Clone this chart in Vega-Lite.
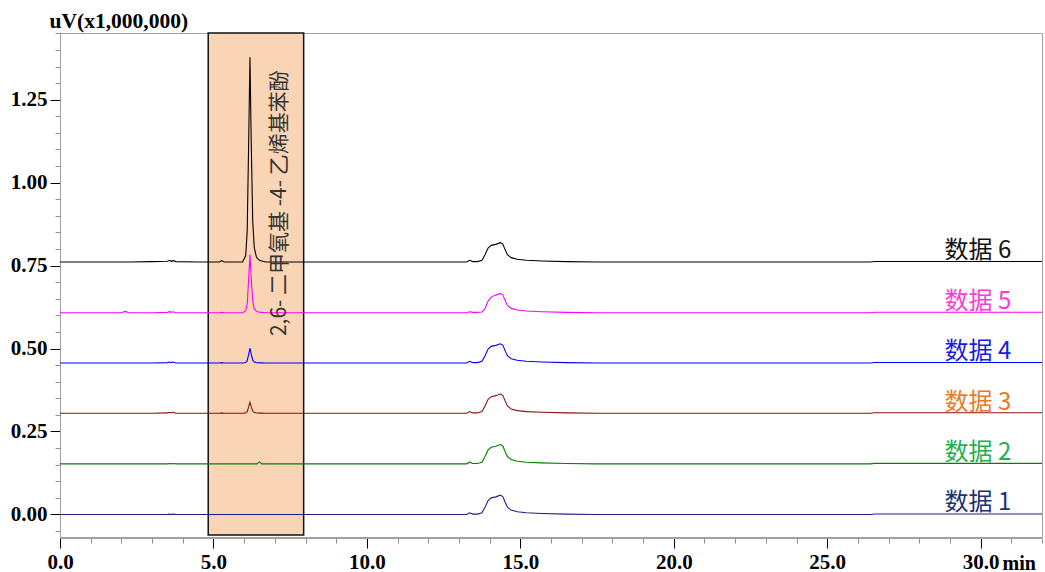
{
  "$schema": "https://vega.github.io/schema/vega-lite/v6.json",
  "autosize": "none",
  "width": 982,
  "height": 504,
  "padding": {"left": 60, "top": 33, "right": 3, "bottom": 35},
  "background": "white",
  "config": {"view": {"stroke": "#a0a0a0", "strokeWidth": 1}},
  "datasets": {
    "traces": [
      {"t": 0, "d1": 0, "d2": 0.1525, "d3": 0.305, "d4": 0.4565, "d5": 0.608, "d6": 0.761},
      {"t": 2.0, "d1": 0, "d2": 0.1525, "d3": 0.305, "d4": 0.4565, "d5": 0.608, "d6": 0.761},
      {"t": 2.12, "d1": 0, "d2": 0.1525, "d3": 0.305, "d4": 0.4565, "d5": 0.612, "d6": 0.761},
      {"t": 2.25, "d1": 0, "d2": 0.1525, "d3": 0.305, "d4": 0.4565, "d5": 0.608, "d6": 0.761},
      {"t": 3.0, "d1": 0, "d2": 0.1525, "d3": 0.305, "d4": 0.4565, "d5": 0.608, "d6": 0.762},
      {"t": 3.5, "d1": 0, "d2": 0.1525, "d3": 0.306, "d4": 0.4575, "d5": 0.609, "d6": 0.763},
      {"t": 3.57, "d1": 0.001, "d2": 0.1535, "d3": 0.308, "d4": 0.4595, "d5": 0.611, "d6": 0.766},
      {"t": 3.62, "d1": 0, "d2": 0.1525, "d3": 0.306, "d4": 0.4575, "d5": 0.609, "d6": 0.763},
      {"t": 3.68, "d1": 0.001, "d2": 0.1535, "d3": 0.308, "d4": 0.4595, "d5": 0.611, "d6": 0.765},
      {"t": 3.78, "d1": 0, "d2": 0.1525, "d3": 0.305, "d4": 0.4565, "d5": 0.608, "d6": 0.762},
      {"t": 4.5, "d1": 0, "d2": 0.1525, "d3": 0.305, "d4": 0.4565, "d5": 0.608, "d6": 0.761},
      {"t": 5.2, "d1": 0, "d2": 0.1525, "d3": 0.305, "d4": 0.4565, "d5": 0.608, "d6": 0.761},
      {"t": 5.27, "d1": 0, "d2": 0.1525, "d3": 0.306, "d4": 0.4575, "d5": 0.609, "d6": 0.765},
      {"t": 5.35, "d1": 0, "d2": 0.1525, "d3": 0.305, "d4": 0.4565, "d5": 0.608, "d6": 0.761},
      {"t": 5.95, "d1": 0, "d2": 0.1525, "d3": 0.305, "d4": 0.4565, "d5": 0.608, "d6": 0.761},
      {"t": 6.05, "d1": 0, "d2": 0.1525, "d3": 0.306, "d4": 0.4579, "d5": 0.6133, "d6": 0.7795},
      {"t": 6.1, "d1": 0, "d2": 0.1525, "d3": 0.31, "d4": 0.4633, "d5": 0.634, "d6": 0.8536},
      {"t": 6.15, "d1": 0, "d2": 0.1525, "d3": 0.3248, "d4": 0.4835, "d5": 0.713, "d6": 1.131},
      {"t": 6.19, "d1": 0, "d2": 0.1525, "d3": 0.338, "d4": 0.5015, "d5": 0.783, "d6": 1.378},
      {"t": 6.23, "d1": 0, "d2": 0.1525, "d3": 0.3248, "d4": 0.4835, "d5": 0.713, "d6": 1.131},
      {"t": 6.28, "d1": 0, "d2": 0.1525, "d3": 0.3116, "d4": 0.4655, "d5": 0.643, "d6": 0.884},
      {"t": 6.33, "d1": 0, "d2": 0.1525, "d3": 0.3073, "d4": 0.4597, "d5": 0.62, "d6": 0.804},
      {"t": 6.4, "d1": 0, "d2": 0.1525, "d3": 0.3058, "d4": 0.4576, "d5": 0.6124, "d6": 0.776},
      {"t": 6.42, "d1": 0, "d2": 0.1525, "d3": 0.3056, "d4": 0.4574, "d5": 0.6115, "d6": 0.773},
      {"t": 6.5, "d1": 0, "d2": 0.1585, "d3": 0.3053, "d4": 0.4569, "d5": 0.6094, "d6": 0.766},
      {"t": 6.58, "d1": 0, "d2": 0.1525, "d3": 0.3052, "d4": 0.4567, "d5": 0.609, "d6": 0.764},
      {"t": 6.7, "d1": 0, "d2": 0.1525, "d3": 0.305, "d4": 0.4565, "d5": 0.608, "d6": 0.761},
      {"t": 13.25, "d1": 0, "d2": 0.1525, "d3": 0.305, "d4": 0.4565, "d5": 0.608, "d6": 0.761},
      {"t": 13.35, "d1": 0.005, "d2": 0.1575, "d3": 0.31, "d4": 0.4615, "d5": 0.611, "d6": 0.766},
      {"t": 13.45, "d1": 0.001, "d2": 0.1535, "d3": 0.306, "d4": 0.4575, "d5": 0.609, "d6": 0.762},
      {"t": 13.6, "d1": 0.001, "d2": 0.1535, "d3": 0.306, "d4": 0.4575, "d5": 0.609, "d6": 0.762},
      {"t": 13.75, "d1": 0.005, "d2": 0.1575, "d3": 0.31, "d4": 0.4615, "d5": 0.61, "d6": 0.766},
      {"t": 13.85, "d1": 0.022, "d2": 0.1745, "d3": 0.327, "d4": 0.4785, "d5": 0.62, "d6": 0.783},
      {"t": 13.95, "d1": 0.042, "d2": 0.1945, "d3": 0.347, "d4": 0.4985, "d5": 0.643, "d6": 0.803},
      {"t": 14.05, "d1": 0.05, "d2": 0.2025, "d3": 0.355, "d4": 0.5065, "d5": 0.655, "d6": 0.811},
      {"t": 14.2, "d1": 0.053, "d2": 0.2055, "d3": 0.358, "d4": 0.5095, "d5": 0.661, "d6": 0.814},
      {"t": 14.35, "d1": 0.058, "d2": 0.2105, "d3": 0.363, "d4": 0.5145, "d5": 0.666, "d6": 0.819},
      {"t": 14.43, "d1": 0.054, "d2": 0.2065, "d3": 0.359, "d4": 0.5105, "d5": 0.662, "d6": 0.815},
      {"t": 14.5, "d1": 0.038, "d2": 0.1905, "d3": 0.343, "d4": 0.4945, "d5": 0.646, "d6": 0.799},
      {"t": 14.58, "d1": 0.022, "d2": 0.1745, "d3": 0.327, "d4": 0.4785, "d5": 0.63, "d6": 0.783},
      {"t": 14.7, "d1": 0.013, "d2": 0.1655, "d3": 0.318, "d4": 0.4695, "d5": 0.621, "d6": 0.774},
      {"t": 14.9, "d1": 0.008, "d2": 0.1605, "d3": 0.313, "d4": 0.4645, "d5": 0.616, "d6": 0.769},
      {"t": 15.2, "d1": 0.005, "d2": 0.1575, "d3": 0.31, "d4": 0.4615, "d5": 0.613, "d6": 0.766},
      {"t": 15.7, "d1": 0.003, "d2": 0.1555, "d3": 0.308, "d4": 0.4595, "d5": 0.611, "d6": 0.764},
      {"t": 16.5, "d1": 0.001, "d2": 0.1535, "d3": 0.306, "d4": 0.4575, "d5": 0.609, "d6": 0.762},
      {"t": 17.5, "d1": 0, "d2": 0.1525, "d3": 0.305, "d4": 0.4565, "d5": 0.608, "d6": 0.761},
      {"t": 26.4, "d1": 0, "d2": 0.1525, "d3": 0.305, "d4": 0.4565, "d5": 0.608, "d6": 0.761},
      {"t": 26.55, "d1": 0.0015, "d2": 0.154, "d3": 0.3065, "d4": 0.458, "d5": 0.6095, "d6": 0.7625},
      {"t": 32, "d1": 0.0015, "d2": 0.154, "d3": 0.3065, "d4": 0.458, "d5": 0.6095, "d6": 0.7625}
    ],
    "labels": [
      {"lab": "数据 6", "lt": 31.0, "lv": 0.772},
      {"lab": "数据 5", "lt": 31.0, "lv": 0.619},
      {"lab": "数据 4", "lt": 31.0, "lv": 0.4675},
      {"lab": "数据 3", "lt": 31.0, "lv": 0.316},
      {"lab": "数据 2", "lt": 31.0, "lv": 0.1635},
      {"lab": "数据 1", "lt": 31.0, "lv": 0.013}
    ],
    "box": [
      {"x1": 4.83, "x2": 7.94, "y1": -0.062, "y2": 1.451, "name": "2,6- 二甲氧基 -4- 乙烯基苯酚", "nt": 7.18, "nv": 0.938}
    ]
  },
  "layer": [
    {
      "data": {"name": "box"},
      "mark": {"type": "rect", "fill": "#fad5b5", "stroke": "#111111", "strokeWidth": 1.5},
      "encoding": {
        "x": {"field": "x1", "type": "quantitative", "scale": {"domain": [0, 32], "nice": false, "zero": false},
          "axis": {
            "orient": "bottom",
            "values": [0, 5, 10, 15, 20, 25, 30],
            "format": ".1f",
            "tickSize": 10,
            "tickColor": "#000000",
            "tickWidth": 1,
            "domainColor": "#a0a0a0",
            "grid": false,
            "offset": 1,
            "labelOverlap": false,
            "labelFlush": false,
            "labelPadding": 3,
            "labelFont": "Liberation Serif",
            "labelFontWeight": "bold",
            "labelFontSize": 21,
            "labelColor": "#000000",
            "title": "min",
            "titleX": 942,
            "titleY": 31,
            "titleAlign": "left",
            "titleBaseline": "alphabetic",
            "titleFont": "Liberation Serif",
            "titleFontWeight": "bold",
            "titleFontSize": 20,
            "titleColor": "#000000"
          }
        },
        "x2": {"field": "x2"},
        "y": {"field": "y1", "type": "quantitative", "scale": {"domain": [-0.068, 1.451], "nice": false, "zero": false},
          "axis": {
            "orient": "left",
            "values": [0, 0.25, 0.5, 0.75, 1.0, 1.25],
            "format": ".2f",
            "tickSize": 10,
            "tickColor": "#000000",
            "domainColor": "#a0a0a0",
            "grid": false,
            "labelOverlap": false,
            "labelFlush": false,
            "labelPadding": 3,
            "labelFont": "Liberation Serif",
            "labelFontWeight": "bold",
            "labelFontSize": 21,
            "labelColor": "#000000",
            "title": "uV(x1,000,000)",
            "titleAngle": 0,
            "titleX": -11,
            "titleY": -6,
            "titleAlign": "left",
            "titleBaseline": "alphabetic",
            "titleFont": "Liberation Serif",
            "titleFontWeight": "bold",
            "titleFontSize": 21.5,
            "titleColor": "#000000"
          }
        },
        "y2": {"field": "y2"}
      }
    },
    {
      "data": {"name": "traces"},
      "transform": [{"fold": ["d1", "d2", "d3", "d4", "d5", "d6"], "as": ["s", "v"]}],
      "mark": {"type": "line", "strokeWidth": 1.1, "interpolate": "linear"},
      "encoding": {
        "x": {"field": "t", "type": "quantitative",
          "axis": {
            "orient": "bottom",
            "values": [1,2,3,4,6,7,8,9,11,12,13,14,16,17,18,19,21,22,23,24,26,27,28,29,31,32],
            "labels": false,
            "domain": false,
            "grid": false,
            "offset": 1,
            "tickSize": 5,
            "tickColor": "#909090",
            "title": null
          }
        },
        "y": {"field": "v", "type": "quantitative",
          "axis": {
            "orient": "left",
            "values": [-0.05,0.05,0.1,0.15,0.2,0.3,0.35,0.4,0.45,0.55,0.6,0.65,0.7,0.8,0.85,0.9,0.95,1.05,1.1,1.15,1.2,1.3,1.35,1.4,1.45],
            "labels": false,
            "domain": false,
            "grid": false,
            "tickSize": 5,
            "tickColor": "#909090",
            "title": null
          }
        },
        "detail": {"field": "s"},
        "color": {"field": "s", "type": "nominal", "legend": null,
          "scale": {"domain": ["d1", "d2", "d3", "d4", "d5", "d6"], "range": ["#20208c", "#008000", "#8b1010", "#0000ff", "#ff00ff", "#000000"]}}
      }
    },
    {
      "data": {"name": "box"},
      "mark": {"type": "text", "angle": 270, "align": "center", "baseline": "middle", "font": "Noto Sans CJK SC", "fontSize": 21, "color": "#333333"},
      "encoding": {
        "x": {"field": "nt", "type": "quantitative", "axis": null},
        "y": {"field": "nv", "type": "quantitative", "axis": null},
        "text": {"field": "name"}
      }
    },
    {
      "data": {"name": "labels"},
      "mark": {"type": "text", "align": "right", "baseline": "alphabetic", "font": "Noto Sans CJK SC", "fontSize": 24},
      "encoding": {
        "x": {"field": "lt", "type": "quantitative", "axis": null},
        "y": {"field": "lv", "type": "quantitative", "axis": null},
        "text": {"field": "lab"},
        "color": {"field": "lab", "type": "nominal", "legend": null,
          "scale": {"domain": ["数据 1", "数据 2", "数据 3", "数据 4", "数据 5", "数据 6"], "range": ["#1f3070", "#20b04c", "#ea7a24", "#1a1ae0", "#ff3ccf", "#111111"]}}
      }
    }
  ],
  "resolve": {"scale": {"color": "independent"}, "axis": {"x": "independent", "y": "independent"}}
}
